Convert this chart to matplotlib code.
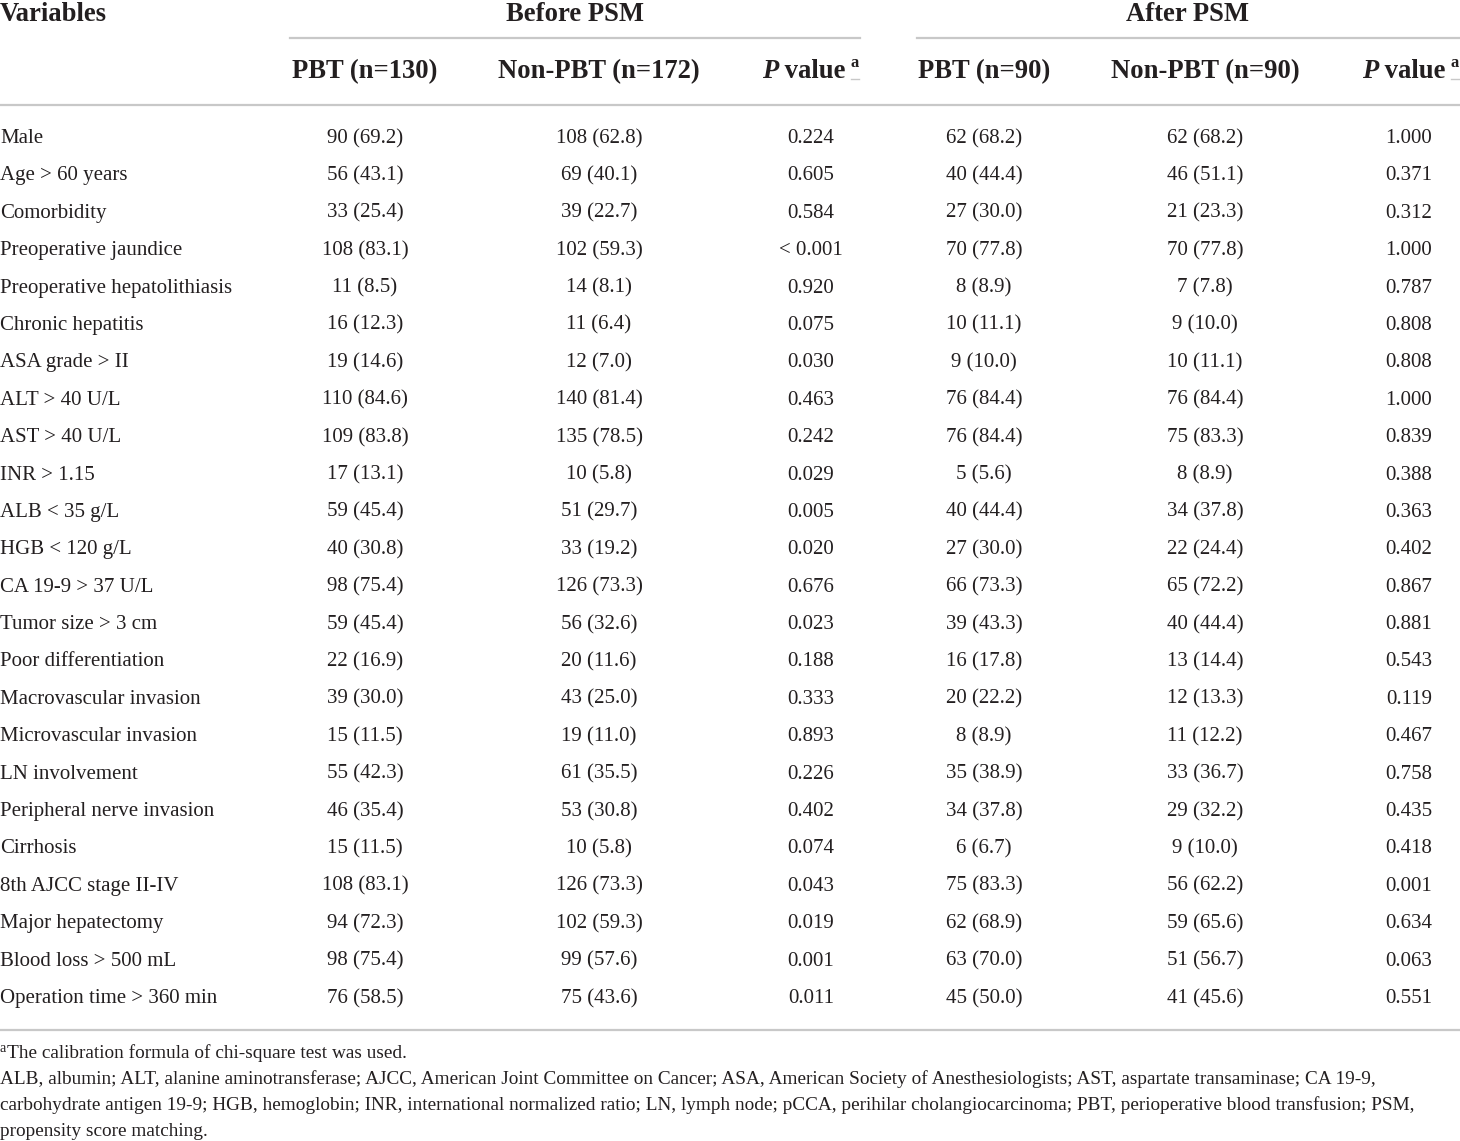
import matplotlib
matplotlib.use("Agg")
import matplotlib.pyplot as plt
from matplotlib.lines import Line2D

W, H = 1460, 1141
DPI = 100

variables = ["Male", "Age > 60 years", "Comorbidity", "Preoperative jaundice",
             "Preoperative hepatolithiasis", "Chronic hepatitis", "ASA grade > II",
             "ALT > 40 U/L", "AST > 40 U/L", "INR > 1.15", "ALB < 35 g/L",
             "HGB < 120 g/L", "CA 19-9 > 37 U/L", "Tumor size > 3 cm",
             "Poor differentiation", "Macrovascular invasion", "Microvascular invasion",
             "LN involvement", "Peripheral nerve invasion", "Cirrhosis",
             "8th AJCC stage II-IV", "Major hepatectomy", "Blood loss > 500 mL",
             "Operation time > 360 min"]
before_pbt = ["90 (69.2)", "56 (43.1)", "33 (25.4)", "108 (83.1)", "11 (8.5)", "16 (12.3)",
              "19 (14.6)", "110 (84.6)", "109 (83.8)", "17 (13.1)", "59 (45.4)", "40 (30.8)",
              "98 (75.4)", "59 (45.4)", "22 (16.9)", "39 (30.0)", "15 (11.5)", "55 (42.3)",
              "46 (35.4)", "15 (11.5)", "108 (83.1)", "94 (72.3)", "98 (75.4)", "76 (58.5)"]
before_non = ["108 (62.8)", "69 (40.1)", "39 (22.7)", "102 (59.3)", "14 (8.1)", "11 (6.4)",
              "12 (7.0)", "140 (81.4)", "135 (78.5)", "10 (5.8)", "51 (29.7)", "33 (19.2)",
              "126 (73.3)", "56 (32.6)", "20 (11.6)", "43 (25.0)", "19 (11.0)", "61 (35.5)",
              "53 (30.8)", "10 (5.8)", "126 (73.3)", "102 (59.3)", "99 (57.6)", "75 (43.6)"]
before_p = ["0.224", "0.605", "0.584", "< 0.001", "0.920", "0.075", "0.030", "0.463", "0.242",
            "0.029", "0.005", "0.020", "0.676", "0.023", "0.188", "0.333", "0.893", "0.226",
            "0.402", "0.074", "0.043", "0.019", "0.001", "0.011"]
after_pbt = ["62 (68.2)", "40 (44.4)", "27 (30.0)", "70 (77.8)", "8 (8.9)", "10 (11.1)",
             "9 (10.0)", "76 (84.4)", "76 (84.4)", "5 (5.6)", "40 (44.4)", "27 (30.0)",
             "66 (73.3)", "39 (43.3)", "16 (17.8)", "20 (22.2)", "8 (8.9)", "35 (38.9)",
             "34 (37.8)", "6 (6.7)", "75 (83.3)", "62 (68.9)", "63 (70.0)", "45 (50.0)"]
after_non = ["62 (68.2)", "46 (51.1)", "21 (23.3)", "70 (77.8)", "7 (7.8)", "9 (10.0)",
             "10 (11.1)", "76 (84.4)", "75 (83.3)", "8 (8.9)", "34 (37.8)", "22 (24.4)",
             "65 (72.2)", "40 (44.4)", "13 (14.4)", "12 (13.3)", "11 (12.2)", "33 (36.7)",
             "29 (32.2)", "9 (10.0)", "56 (62.2)", "59 (65.6)", "51 (56.7)", "41 (45.6)"]
after_p = ["1.000", "0.371", "0.312", "1.000", "0.787", "0.808", "0.808", "1.000", "0.839",
           "0.388", "0.363", "0.402", "0.867", "0.881", "0.543", "0.119", "0.467", "0.758",
           "0.435", "0.418", "0.001", "0.634", "0.063", "0.551"]

group_titles = ["Before PSM", "After PSM"]
col_headers = ["PBT (n=130)", "Non-PBT (n=172)", "PBT (n=90)", "Non-PBT (n=90)"]
footnote_a = "The calibration formula of chi-square test was used."
footnote_abbr = [
    "ALB, albumin; ALT, alanine aminotransferase; AJCC, American Joint Committee on Cancer; ASA, American Society of Anesthesiologists; AST, aspartate transaminase; CA 19-9,",
    "carbohydrate antigen 19-9; HGB, hemoglobin; INR, international normalized ratio; LN, lymph node; pCCA, perihilar cholangiocarcinoma; PBT, perioperative blood transfusion; PSM,",
    "propensity score matching.",
]

plt.rcParams['font.family'] = ['Liberation Serif', 'DejaVu Serif']
TXT = '#231f20'
LINE = '#c8c8c8'

fig = plt.figure(figsize=(W / DPI, H / DPI), dpi=DPI)
fig.patch.set_facecolor('white')


def fx(x):
    return x / W


def fy(y):
    return 1 - y / H


def put(x, y, s, ha='left', size=14, weight='normal', style='normal'):
    # y is the baseline in pixels from top
    return fig.text(fx(x), fy(y), s, ha=ha, va='baseline', fontsize=size,
                    fontweight=weight, fontstyle=style, color=TXT)


def hline(x0, x1, y, lw=1.6):
    fig.add_artist(Line2D([fx(x0), fx(x1)], [fy(y), fy(y)], color=LINE, lw=lw,
                          transform=fig.transFigure))


HS = 19.2  # header size
BS = 15.0  # body size
FS = 13.9  # footnote size

# header row 1
put(0, 21, "Variables", size=HS, weight='bold')
put(575, 21, group_titles[0], ha='center', size=HS, weight='bold')
put(1188, 21, group_titles[1], ha='center', size=HS, weight='bold')
hline(290, 860, 38)
hline(917, 1460, 38)

# header row 2
hdr_x = [365, 599, 984, 1205]
for x, s in zip(hdr_x, col_headers):
    put(x, 78, s, ha='center', size=HS, weight='bold')

fig.canvas.draw()
renderer = fig.canvas.get_renderer()


def pvalue_header(x_right, y):
    a = put(x_right - 1, y - 11, "a", ha='right', size=12, weight='bold')
    bb = a.get_window_extent(renderer)
    hline(bb.x0, bb.x1, y + 1, lw=1.0)
    v = put(bb.x0 - 5, y, " value", ha='right', size=HS, weight='bold')
    bv = v.get_window_extent(renderer)
    put(bv.x0, y, "P", ha='right', size=HS, weight='bold', style='italic')


pvalue_header(860, 78)
pvalue_header(1460, 78)

hline(0, 1460, 105)

# body
col_x = [365, 599, 811, 984, 1205, 1409]
cols = [before_pbt, before_non, before_p, after_pbt, after_non, after_p]
y0, dy = 136, (996 - 136) / 23
for i, var in enumerate(variables):
    yb = y0 + i * dy + 7
    put(0, yb, var, size=BS)
    for x, col in zip(col_x, cols):
        put(x, yb, col[i], ha='center', size=BS)

hline(0, 1460, 1030)

# footnotes
put(0, 1052, "a", size=10)
put(7, 1058, footnote_a, size=FS)
for k, line in enumerate(footnote_abbr):
    put(0, 1084 + 26 * k, line, size=FS)

fig.savefig("out.png", dpi=DPI, facecolor='white')
